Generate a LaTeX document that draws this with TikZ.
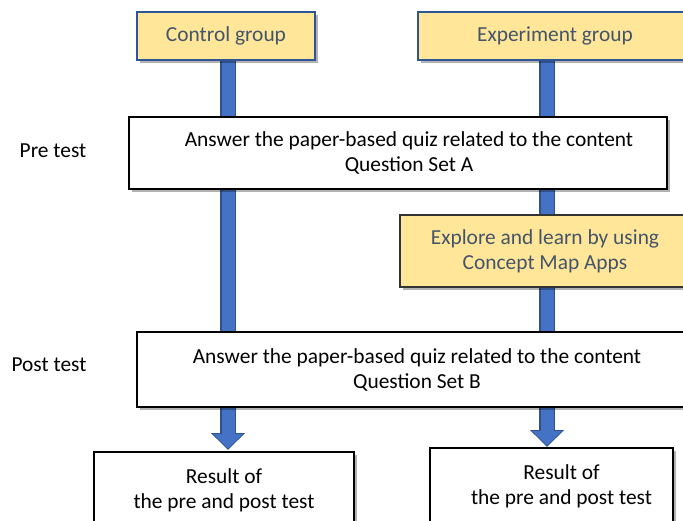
\documentclass[tikz,border=0pt]{standalone}
\usepackage{fontspec}
\setmainfont{Carlito}
\usepackage{tikz}
\usetikzlibrary{shadows,backgrounds,arrows.meta}
\definecolor{grpfill}{HTML}{FFE699}
\definecolor{grpline}{HTML}{2F5597}
\definecolor{grptext}{HTML}{44546A}
\definecolor{barblue}{HTML}{4472C4}
\definecolor{bardark}{HTML}{2F528F}

\begin{document}
\begin{tikzpicture}[x=1pt,y=-1pt,
  font=\fontsize{21.4}{25}\selectfont,
  boxshadow/.style={drop shadow={shadow xshift=3pt,shadow yshift=-3pt,opacity=0.3,fill=black}},
  grp/.style={rectangle, inner sep=0pt, draw=grpline, line width=2pt, fill=grpfill, text=grptext, boxshadow},
  task/.style={rectangle, inner sep=0pt, draw=black, line width=1.6pt, fill=white, align=center, boxshadow},
  learn/.style={rectangle, inner sep=0pt, draw=black!80, line width=1.4pt, fill=grpfill, text=grptext, align=center, boxshadow},
  barout/.style={bardark, line width=16pt, -{Triangle[width=33pt,length=17pt]}},
  barin/.style={barblue, line width=13pt, shorten >=1.5pt, -{Triangle[width=29pt,length=14.5pt]}}]
  \useasboundingbox (0,0) rectangle (683,520);

  \node[grp, minimum width=178pt, minimum height=48pt] (ctrl) at (226,36) {Control group};
  \node[grp, minimum width=274pt, minimum height=48pt] (exp) at (555,36) {Experiment group};

  \node (pre) at (53,151) {Pre test};
  \node[task, minimum width=538pt, minimum height=72pt] (quizA) at (398,153) {};
  \node[align=center] (quizAtext) at ([xshift=11pt]quizA.center)
    {Answer the paper-based quiz related to the content\\Question Set A};

  \node[learn, minimum width=290pt, minimum height=72pt] (apps) at (545,251)
    {Explore and learn by using\\Concept Map Apps};

  \node (post) at (49,365) {Post test};
  \node[task, minimum width=560pt, minimum height=75pt] (quizB) at (417,369.5)
    {Answer the paper-based quiz related to the content\\Question Set B};

  \node[task, minimum width=260pt, minimum height=76pt] (resA) at (224,490)
    {Result of\\the pre and post test};
  \node[task, minimum width=243pt, minimum height=76pt] (resB) at (551.5,486) {};
  \node[align=center] (resBtext) at ([xshift=10pt]resB.center)
    {Result of\\the pre and post test};

  \coordinate (ctrlTip) at (228,450);
  \coordinate (expTip) at (547,447);

  \begin{scope}[on background layer]
    \draw[barout] (ctrl.south -| ctrlTip) -- (ctrlTip);
    \draw[barin] (ctrl.south -| ctrlTip) -- (ctrlTip);
    \draw[barout] (exp.south -| expTip) -- (expTip);
    \draw[barin] (exp.south -| expTip) -- (expTip);
  \end{scope}
\end{tikzpicture}
\end{document}
